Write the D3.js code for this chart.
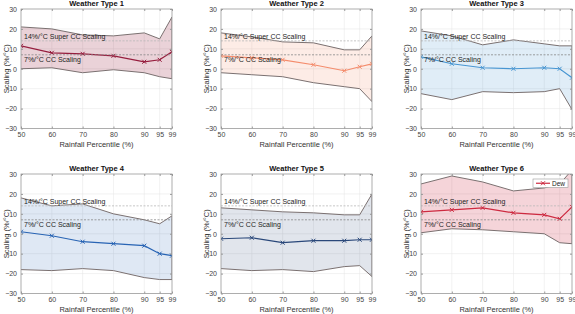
<!DOCTYPE html>
<html>
<head>
<meta charset="utf-8">
<script src="https://cdn.jsdelivr.net/npm/d3@7"></script>
<style>
  body { margin: 0; background: #fff; }
  text { font-family: "Liberation Sans", Arial, sans-serif; }
</style>
</head>
<body>
<svg id="chart" width="575" height="314"></svg>
<script>
// rainfall percentiles on the x axis
const percentiles = [50, 60, 70, 80, 90, 95, 99];
const yTicks = [-30, -20, -10, 0, 10, 20, 30];
const titles = ['Weather Type 1', 'Weather Type 2', 'Weather Type 3',
                'Weather Type 4', 'Weather Type 5', 'Weather Type 6'];
const colors = ['rgb(150,30,62)', 'rgb(244,140,108)', 'rgb(72,150,210)',
                'rgb(40,100,180)', 'rgb(42,72,122)', 'rgb(205,42,64)'];
const bandOpacity = [0.2, 0.17, 0.17, 0.15, 0.14, 0.2];

// scaling (%/°C) per weather type
const meanWT = [
    [11.5, 8, 7.5, 6.5, 3.5, 4.5, 8.5],
    [6.5, 5.5, 4.5, 2, -1, 1, 2.5],
    [6, 2.5, 0.5, 0, 0.5, 0, -4.5],
    [1, -1, -4, -5, -6, -10, -11],
    [-2.5, -2, -4.5, -3.5, -3.5, -3, -3],
    [11, 12, 13, 10.5, 9.5, 7.5, 13.5]
];
const upperWT = [
    [21, 20, 17, 16.5, 18, 15, 26],
    [18, 16, 13.5, 13, 9.5, 9.5, 16.5],
    [19, 16.5, 12, 14.5, 12.5, 11.5, 11.5],
    [18, 14, 15, 10, 7, 5, 9],
    [13, 12, 11, 10.5, 9.5, 9.5, 20],
    [25, 29, 26, 21.5, 23, 25, 32]
];
const lowerWT = [
    [0, 0.5, -2, -0.5, -2, -4, -5],
    [-2, -3, -4, -7, -9, -10, -16.5],
    [-12.5, -15.5, -11.5, -12, -11.5, -10, -20.5],
    [-18, -18.5, -17.5, -18.5, -22, -23, -23],
    [-17.5, -18.5, -18, -19, -16.5, -16, -21.5],
    [0.5, 2.5, 2, 1, 0, -4.5, -5]
];
const ccLines = [
    { value: 14, label: '14%/°C Super CC Scaling', stroke: '#b8b8b8', dy: -2 },
    { value: 7, label: '7%/°C CC Scaling', stroke: '#888', dy: 7 }
];

const colX = [21, 221, 421];
const rowY = [9, 174];
const w = 151, h = 119.5;

const svg = d3.select('#chart');

const x = d3.scaleLinear().domain([50, 99]).range([0, w]);
const y = d3.scaleLinear().domain([-30, 30]).range([h, 0]);

titles.forEach((title, i) => {
    const g = svg.append('g')
        .attr('transform', `translate(${colX[i % 3]},${rowY[Math.floor(i / 3)]})`);

    g.append('clipPath').attr('id', 'clip' + i)
        .append('rect').attr('width', w).attr('height', h);

    // grid
    g.append('g').selectAll('line').data(yTicks.slice(1, -1)).join('line')
        .attr('x1', 0).attr('x2', w)
        .attr('y1', d => y(d)).attr('y2', d => y(d))
        .attr('stroke', '#e4e4e4').attr('stroke-width', 0.5);
    g.append('g').selectAll('line').data(percentiles.slice(1, -1)).join('line')
        .attr('y1', 0).attr('y2', h)
        .attr('x1', d => x(d)).attr('x2', d => x(d))
        .attr('stroke', '#e4e4e4').attr('stroke-width', 0.5);

    const plot = g.append('g').attr('clip-path', `url(#clip${i})`);
    const rows = percentiles.map((p, j) => ({ p, m: meanWT[i][j], lo: lowerWT[i][j], hi: upperWT[i][j] }));

    plot.append('path').datum(rows)
        .attr('fill', colors[i]).attr('fill-opacity', bandOpacity[i])
        .attr('d', d3.area().x(d => x(d.p)).y0(d => y(d.lo)).y1(d => y(d.hi)));
    ['hi', 'lo'].forEach(k => {
        plot.append('path').datum(rows)
            .attr('fill', 'none').attr('stroke', '#7a7070').attr('stroke-width', 1)
            .attr('d', d3.line().x(d => x(d.p)).y(d => y(d[k])));
    });
    // right edge of the band
    plot.append('line')
        .attr('x1', x(99)).attr('x2', x(99))
        .attr('y1', y(upperWT[i][6])).attr('y2', y(lowerWT[i][6]))
        .attr('stroke', '#7a7070').attr('stroke-width', 1);

    ccLines.forEach(c => {
        g.append('line').attr('x1', 0).attr('x2', w)
            .attr('y1', y(c.value)).attr('y2', y(c.value))
            .attr('stroke', c.stroke).attr('stroke-width', 0.8)
            .attr('stroke-dasharray', '2,1.5');
        g.append('text').attr('x', 3).attr('y', y(c.value) + c.dy)
            .attr('font-size', 7).attr('fill', '#222').text(c.label);
    });

    plot.append('path').datum(rows)
        .attr('fill', 'none').attr('stroke', colors[i]).attr('stroke-width', 1.2)
        .attr('d', d3.line().x(d => x(d.p)).y(d => y(d.m)));
    plot.append('g').selectAll('path').data(rows).join('path')
        .attr('transform', d => `translate(${x(d.p)},${y(d.m)})`)
        .attr('d', 'M-2,-2L2,2M-2,2L2,-2')
        .attr('stroke', colors[i]).attr('stroke-width', 1);

    // axes, box style
    const axisColor = '#9a9a9a';
    const styleAxis = sel => {
        sel.select('.domain').remove();
        sel.selectAll('.tick line').attr('stroke', axisColor);
        sel.selectAll('.tick text').attr('fill', '#444').attr('font-size', 7)
            .attr('font-family', '"Liberation Sans", Arial, sans-serif');
    };
    g.append('g').attr('transform', `translate(0,${h})`)
        .call(d3.axisBottom(x).tickValues(percentiles).tickSizeInner(-2).tickSizeOuter(0).tickPadding(4))
        .call(styleAxis);
    g.append('g')
        .call(d3.axisTop(x).tickValues(percentiles).tickSizeInner(-2).tickSizeOuter(0).tickFormat(''))
        .call(styleAxis);
    g.append('g')
        .call(d3.axisLeft(y).tickValues(yTicks).tickSizeInner(-2).tickSizeOuter(0).tickPadding(4))
        .call(styleAxis);
    g.append('g').attr('transform', `translate(${w},0)`)
        .call(d3.axisRight(y).tickValues(yTicks).tickSizeInner(-2).tickSizeOuter(0).tickFormat(''))
        .call(styleAxis);
    g.append('rect').attr('width', w).attr('height', h)
        .attr('fill', 'none').attr('stroke', axisColor).attr('stroke-width', 0.8);

    g.append('text').attr('x', w / 2).attr('y', -3).attr('text-anchor', 'middle')
        .attr('font-size', 7.5).attr('font-weight', 'bold').attr('fill', '#111').text(title);
    g.append('text').attr('x', w / 2).attr('y', h + 18).attr('text-anchor', 'middle')
        .attr('font-size', 7.5).attr('fill', '#333').text('Rainfall Percentile (%)');
    g.append('text').attr('transform', `translate(-12,${h / 2}) rotate(-90)`)
        .attr('text-anchor', 'middle').attr('font-size', 7.5).attr('fill', '#333')
        .text('Scaling (%/°C)');

    if (i === 5) {
        const lg = g.append('g').attr('transform', `translate(${w - 39},5)`);
        lg.append('rect').attr('width', 35).attr('height', 8.5)
            .attr('fill', '#fff').attr('stroke', '#999').attr('stroke-width', 0.6);
        lg.append('line').attr('x1', 3).attr('x2', 17).attr('y1', 4.25).attr('y2', 4.25)
            .attr('stroke', colors[i]).attr('stroke-width', 1.2);
        lg.append('path').attr('transform', 'translate(10,4.25)')
            .attr('d', 'M-2,-2L2,2M-2,2L2,-2').attr('stroke', colors[i]);
        lg.append('text').attr('x', 19).attr('y', 6.6).attr('font-size', 6.5)
            .attr('fill', '#222').text('Dew');
    }
});
</script>
</body>
</html>
